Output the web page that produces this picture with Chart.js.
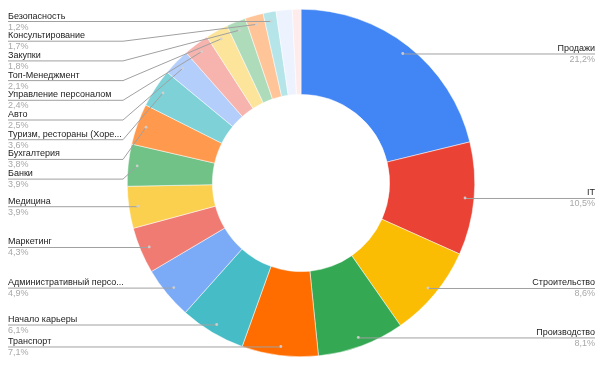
<!DOCTYPE html>
<html>
<head>
<meta charset="utf-8">
<script src="https://cdn.jsdelivr.net/npm/chart.js@4/dist/chart.umd.min.js"></script>
<style>
  html, body { margin: 0; padding: 0; background: #fff; }
  #wrap { width: 602px; height: 369px; position: relative; }
</style>
</head>
<body>
<div id="wrap"><canvas id="c" width="602" height="369"></canvas></div>
<script>
// Categories (clockwise from 12 o'clock)
const categories = [
  "Продажи", "IT", "Строительство", "Производство", "Транспорт",
  "Начало карьеры", "Административный персонал", "Маркетинг", "Медицина", "Банки",
  "Бухгалтерия", "Туризм, рестораны (Хорека)", "Авто", "Управление персоналом",
  "Топ-Менеджмент", "Закупки", "Консультирование", "Безопасность", "", ""
];
// Share, percent
const shares = [
  21.2, 10.5, 8.6, 8.1, 7.1,
  6.1, 4.9, 4.3, 3.9, 3.9,
  3.8, 3.6, 2.5, 2.4,
  2.1, 1.8, 1.7, 1.2, 1.5, 0.8
];
const colors = [
  "#4285f4", "#ea4335", "#fbbc04", "#34a853", "#ff6d01",
  "#46bdc6", "#7baaf7", "#f07b72", "#fcd04f", "#71c287",
  "#ff994d", "#7ed1d7", "#b3cefb", "#f7b4ae",
  "#fde49b", "#aedcba", "#ffc599", "#b5e5e8", "#ecf3fe", "#fdeceb"
];

const FONT = '9px "Liberation Sans", Arial, sans-serif';

const labelPlugin = {
  id: 'labeledLegend',
  afterDraw(chart) {
    const ctx = chart.ctx;
    const meta = chart.getDatasetMeta(0);
    const data = chart.data.datasets[0].data;
    const total = data.reduce((a, b) => a + b, 0);
    const left = [], right = [];
    meta.data.forEach((arc, i) => {
      const name = chart.data.labels[i];
      if (!name) return;
      const p = arc.getProps(['x', 'y', 'startAngle', 'endAngle', 'outerRadius', 'innerRadius'], true);
      const mid = (p.startAngle + p.endAngle) / 2;
      const r = p.outerRadius * 0.948;
      const ax = p.x + r * Math.cos(mid);
      const ay = p.y + r * Math.sin(mid);
      const pct = (data[i] / total * 100).toFixed(1).replace('.', ',') + '%';
      const item = { name, pct, ax, ay, ly: ay };
      (Math.cos(mid) > 0 ? right : left).push(item);
    });
    const gap = 19.7, topMin = 19.3;
    [left, right].forEach(list => {
      list.sort((a, b) => a.ay - b.ay);
      let prev = -1e9;
      list.forEach(it => {
        it.ly = Math.max(it.ay, prev + gap, topMin);
        prev = it.ly;
      });
    });
    ctx.save();
    ctx.font = FONT;
    ctx.lineWidth = 1;
    const fit = (txt, maxW) => {
      if (ctx.measureText(txt).width <= maxW) return txt;
      let t = txt;
      while (t.length > 1 && ctx.measureText(t + '...').width > maxW) t = t.slice(0, -1);
      return t.trimEnd() + '...';
    };
    const elbowL = 123;
    left.forEach(it => {
      ctx.strokeStyle = '#a0a0a0';
      ctx.beginPath();
      ctx.moveTo(8, it.ly + 0.5);
      if (Math.abs(it.ly - it.ay) < 1.5) {
        ctx.lineTo(it.ax, it.ly + 0.5);
      } else {
        ctx.lineTo(elbowL, it.ly + 0.5);
        ctx.lineTo(it.ax, it.ay);
      }
      ctx.stroke();
      ctx.textAlign = 'left';
      ctx.textBaseline = 'alphabetic';
      ctx.fillStyle = '#222222';
      ctx.fillText(fit(it.name, 116), 8, it.ly - 2.5);
      ctx.fillStyle = '#a8a8a8';
      ctx.fillText(it.pct, 8, it.ly + 8.5);
    });
    right.forEach(it => {
      ctx.strokeStyle = '#a0a0a0';
      ctx.beginPath();
      ctx.moveTo(595, it.ly + 0.5);
      if (Math.abs(it.ly - it.ay) < 1.5) {
        ctx.lineTo(it.ax, it.ly + 0.5);
      } else {
        ctx.lineTo(480, it.ly + 0.5);
        ctx.lineTo(it.ax, it.ay);
      }
      ctx.stroke();
      ctx.textAlign = 'right';
      ctx.textBaseline = 'alphabetic';
      ctx.fillStyle = '#222222';
      ctx.fillText(it.name, 595, it.ly - 2.5);
      ctx.fillStyle = '#a8a8a8';
      ctx.fillText(it.pct, 595, it.ly + 8.5);
    });
    // anchor dots
    [...left, ...right].forEach(it => {
      ctx.fillStyle = 'rgba(210,210,210,0.9)';
      ctx.beginPath();
      ctx.arc(it.ax, it.ay, 1.4, 0, Math.PI * 2);
      ctx.fill();
    });
    ctx.restore();
  }
};

new Chart(document.getElementById('c'), {
  type: 'doughnut',
  data: {
    labels: categories,
    datasets: [{
      data: shares,
      backgroundColor: colors,
      borderColor: '#ffffff',
      borderWidth: 0.5,
      hoverOffset: 0
    }]
  },
  options: {
    responsive: false,
    animation: false,
    cutout: '51%',
    layout: { padding: { top: 9, bottom: 12, left: 0, right: 0 } },
    plugins: { legend: { display: false }, tooltip: { enabled: false } }
  },
  plugins: [labelPlugin]
});
</script>
</body>
</html>
